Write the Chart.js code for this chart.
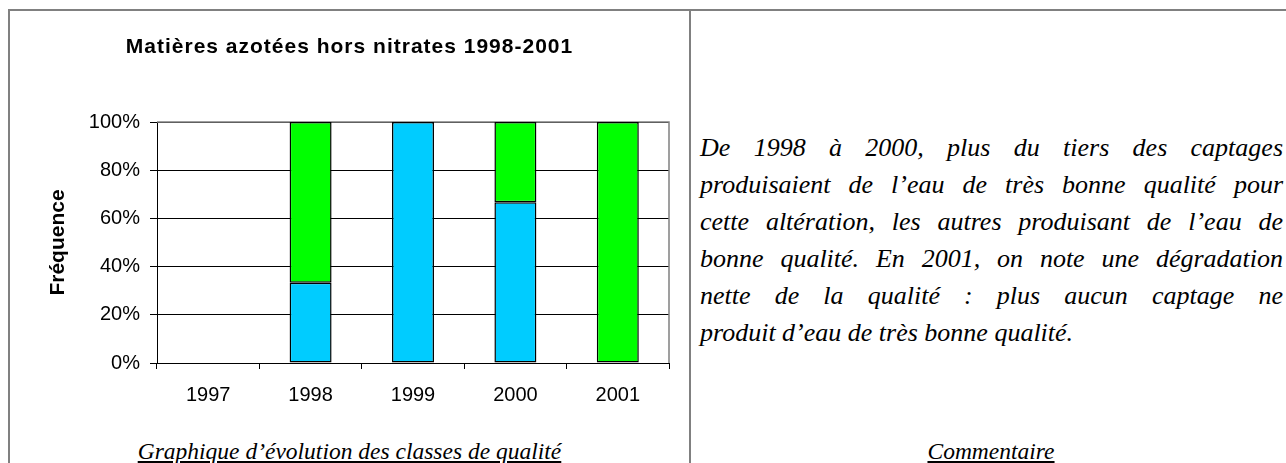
<!DOCTYPE html>
<html lang="fr">
<head>
<meta charset="utf-8">
<title>Matières azotées hors nitrates 1998-2001</title>
<script src="https://cdn.jsdelivr.net/npm/chart.js@4.4.1/dist/chart.umd.min.js"></script>
<style>
  html, body { margin: 0; padding: 0; background: #fff; }
  body { width: 1286px; height: 463px; overflow: hidden; position: relative; }
  .frame { position: absolute; left: 8px; top: 9px; width: 1300px; height: 480px;
           border-top: 2px solid #808080; border-left: 2px solid #808080; }
  .divider { position: absolute; left: 689px; top: 9px; width: 2px; height: 470px; background: #808080; }
  #chartBox { position: absolute; left: 0; top: 0; width: 690px; height: 420px; }
  #chartTitle { position: absolute; left: 10px; width: 679px; top: 34px; text-align: center;
                font: bold 21px "Liberation Sans", Arial, sans-serif; letter-spacing: 1px; color: #000; }
  .serif { font-family: "Liberation Serif", "Times New Roman", serif; font-style: italic; color: #000; }
  .caption { position: absolute; top: 438px; font-size: 23.5px; line-height: 27px; text-decoration: underline; text-align: center; }
  #comment { position: absolute; left: 700px; width: 583px; top: 129px; font-size: 26px; line-height: 37px; }
  #comment div { text-align: justify; text-align-last: justify; white-space: nowrap; }
  #comment div.last { text-align-last: left; }
</style>
</head>
<body>
<div class="frame"></div>
<div class="divider"></div>
<div id="chartBox"><canvas id="myChart"></canvas></div>
<div id="chartTitle">Matières azotées hors nitrates 1998-2001</div>
<div class="serif caption" style="left:10px;width:679px;">Graphique d’évolution des classes de qualité</div>
<div class="serif caption" style="left:691px;width:600px;">Commentaire</div>
<div id="comment" class="serif"></div>

<script>
// Data
const years = ["1997", "1998", "1999", "2000", "2001"];
const tresBonne = [0, 33.3, 100, 66.7, 0];   // blue
const bonne = [0, 66.7, 0, 33.3, 100];       // green
const yTicks = [0, 20, 40, 60, 80, 100];

const commentLines = [
  "De 1998 à 2000, plus du tiers des captages",
  "produisaient de l’eau de très bonne qualité pour",
  "cette altération, les autres produisant de l’eau de",
  "bonne qualité. En 2001, on note une dégradation",
  "nette de la qualité : plus aucun captage ne",
  "produit d’eau de très bonne qualité."
];

// comment block: one justified div per line, last line left aligned
const comment = document.getElementById("comment");
commentLines.forEach((line, i) => {
  const d = document.createElement("div");
  d.textContent = line;
  if (i === commentLines.length - 1) d.className = "last";
  comment.appendChild(d);
});

const sans = "'Liberation Sans', Arial, sans-serif";

// plot area frame: grey top and right edges like the Excel chart
const plotFrame = {
  id: "plotFrame",
  beforeDatasetsDraw(chart) {
    const a = chart.chartArea;
    const c = chart.ctx;
    c.save();
    c.strokeStyle = "#808080";
    c.lineWidth = 1.5;
    c.beginPath();
    c.moveTo(a.left, a.top);
    c.lineTo(a.right, a.top);
    c.lineTo(a.right, a.bottom);
    c.stroke();
    c.restore();
  }
};

const ctx = document.getElementById("myChart");
new Chart(ctx, {
  type: "bar",
  data: {
    labels: years,
    datasets: [
      {
        label: "Très bonne qualité",
        data: tresBonne,
        backgroundColor: "#00CCFF",
        borderColor: "#000",
        borderWidth: 1.5,
        borderSkipped: false
      },
      {
        label: "Bonne qualité",
        data: bonne,
        backgroundColor: "#00FF00",
        borderColor: "#000",
        borderWidth: 1.5,
        borderSkipped: false
      }
    ]
  },
  options: {
    responsive: true,
    maintainAspectRatio: false,
    animation: false,
    datasets: { bar: { categoryPercentage: 1, barPercentage: 0.41 } },
    layout: { padding: { left: 46, right: 21, top: 122, bottom: 0 } },
    plugins: {
      legend: { display: false },
      tooltip: { enabled: false },
      title: { display: false }
    },
    scales: {
      x: {
        stacked: true,
        offset: true,
        afterFit: (s) => { s.height = 57; },
        grid: { offset: true, drawOnChartArea: false, color: "#000", tickLength: 6 },
        border: { color: "#000", width: 1 },
        ticks: { color: "#000", padding: 14, font: { family: sans, size: 20 } }
      },
      y: {
        stacked: true,
        min: 0,
        max: 100,
        afterFit: (s) => { s.width = 111; },
        afterBuildTicks: (s) => { s.ticks = yTicks.map((v) => ({ value: v })); },
        grid: { color: "#000", lineWidth: 1, tickLength: 7 },
        border: { color: "#000", width: 1 },
        ticks: {
          color: "#000",
          padding: 10,
          font: { family: sans, size: 20 },
          callback: (v) => v + "%"
        },
        title: {
          display: true,
          text: "Fréquence",
          color: "#000",
          padding: 0,
          font: { family: sans, size: 21, weight: "bold" }
        }
      }
    }
  },
  plugins: [plotFrame]
});
</script>
</body>
</html>
